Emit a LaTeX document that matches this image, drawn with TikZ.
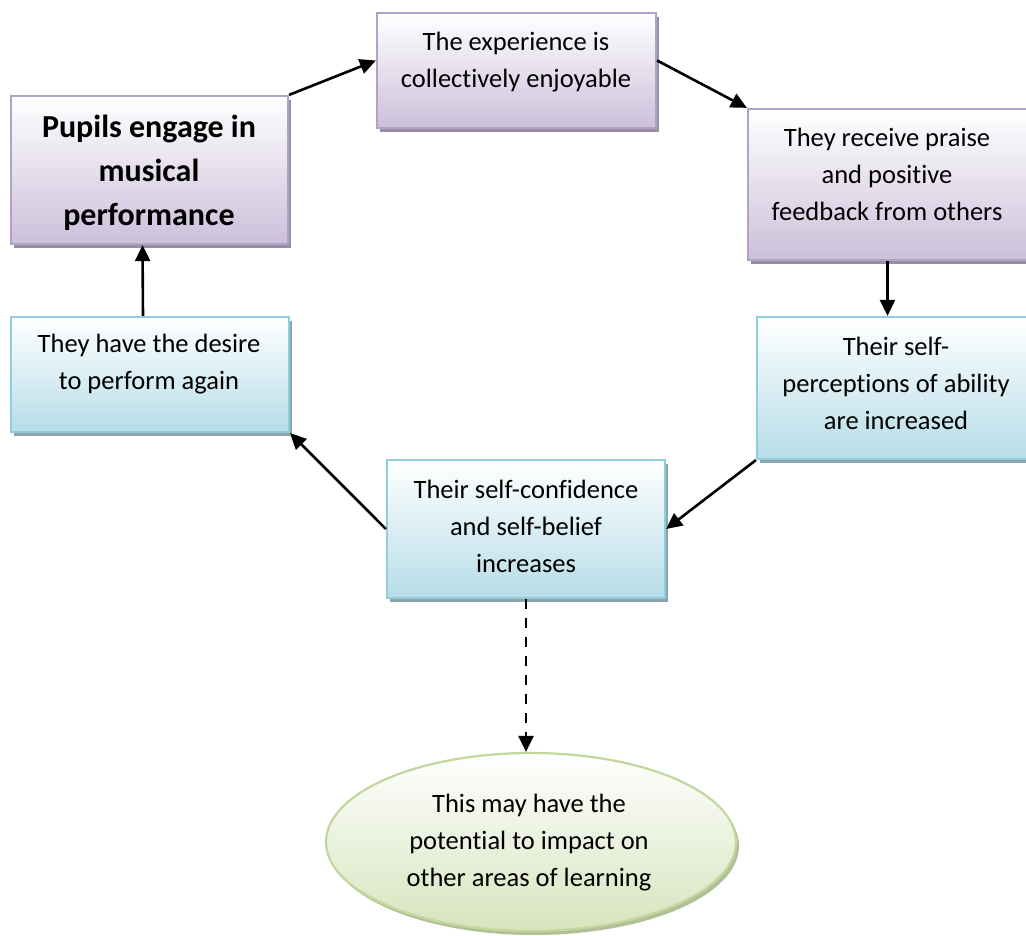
\documentclass[tikz,border=0pt]{standalone}
\usepackage{fontspec}
\setmainfont[RawFeature={-liga;-clig;-calt;-dlig}]{Carlito}
\usetikzlibrary{arrows.meta,shadows,shapes.geometric}
\definecolor{purpborder}{RGB}{179,162,199}
\definecolor{purpfill}{RGB}{204,192,218}
\definecolor{purpshadow}{RGB}{152,142,166}
\definecolor{blueborder}{RGB}{146,205,221}
\definecolor{bluefill}{RGB}{182,221,232}
\definecolor{blueshadow}{RGB}{140,165,172}
\definecolor{greenborder}{RGB}{195,214,155}
\definecolor{greenfill}{RGB}{215,228,189}
\definecolor{greenshadow}{RGB}{178,192,152}
\tikzset{
  purpbox/.style={rectangle, inner sep=0pt, draw=purpborder, line width=2.2pt,
    top color=white, bottom color=purpfill,
    drop shadow={shadow xshift=3pt, shadow yshift=-4pt, fill=purpshadow, opacity=1}},
  bluebox/.style={rectangle, inner sep=0pt, draw=blueborder, line width=2.2pt,
    top color=white, bottom color=bluefill,
    drop shadow={shadow xshift=3pt, shadow yshift=-4pt, fill=blueshadow, opacity=1}},
  greenell/.style={ellipse, inner sep=0pt, draw=greenborder, line width=2.2pt,
    top color=white, bottom color=greenfill,
    drop shadow={shadow xshift=3pt, shadow yshift=-4pt, fill=greenshadow, opacity=1}},
  txt/.style={align=center, inner sep=0pt, font=\fontsize{26.5}{37}\selectfont},
  boldtxt/.style={align=center, inner sep=0pt, font=\fontsize{32}{44}\selectfont\bfseries},
  arr/.style={line width=2.6pt, -{Triangle[length=16pt,width=15pt]}},
  dasharr/.style={arr, dash pattern=on 10pt off 9pt}
}
\begin{document}
\begin{tikzpicture}[x=1pt,y=-1pt]
\useasboundingbox (0,0) rectangle (1026,936);
\clip (0,0) rectangle (1026,936);
% boxes
\node[purpbox, minimum width=277pt, minimum height=148pt] (A) at (149.5,170) {};
\node[purpbox, minimum width=279pt, minimum height=115pt] (B) at (516.5,70.5) {};
\node[purpbox, minimum width=279pt, minimum height=151pt] (C) at (887.5,184.5) {};
\node[bluebox, minimum width=278pt, minimum height=142pt] (D) at (896,388) {};
\node[bluebox, minimum width=278pt, minimum height=138pt] (E) at (526,529) {};
\node[bluebox, minimum width=278pt, minimum height=115pt] (F) at (150,374.5) {};
\node[greenell, minimum width=410pt, minimum height=178pt] (L) at (531,842) {};
% texts
\node[boldtxt] (tA) at (149,173) {Pupils engage in\\musical\\performance};
\node[txt] (tB) at (516,62) {The experience is\\collectively enjoyable};
\node[txt] (tC) at (887,174.5) {They receive praise\\and positive\\feedback from others};
\node[txt] (tD) at (896,383) {Their self-\\perceptions of ability\\are increased};
\node[txt] (tE) at (526,526) {Their self-confidence\\and self-belief\\increases};
\node[txt] (tF) at (149,364.5) {They have the desire\\to perform again};
\node[txt] (tL) at (529,842.5) {This may have the\\potential to impact on\\other areas of learning};
% connectors
\draw[arr] (A.north east) -- ([yshift=10pt]B.west);
\draw[arr] ([yshift=10pt]B.east) -- (C.north west);
\draw[arr] (C.south) -- (C.south |- D.north);
\draw[arr] (D.south west) -- (E.east);
\draw[arr] (E.west) -- (F.south east);
\draw[arr] ([xshift=-7pt]F.north) -- ([xshift=-7pt]A.south);
\draw[dasharr] (E.south) -- (E.south |- L.north);
\end{tikzpicture}
\end{document}
